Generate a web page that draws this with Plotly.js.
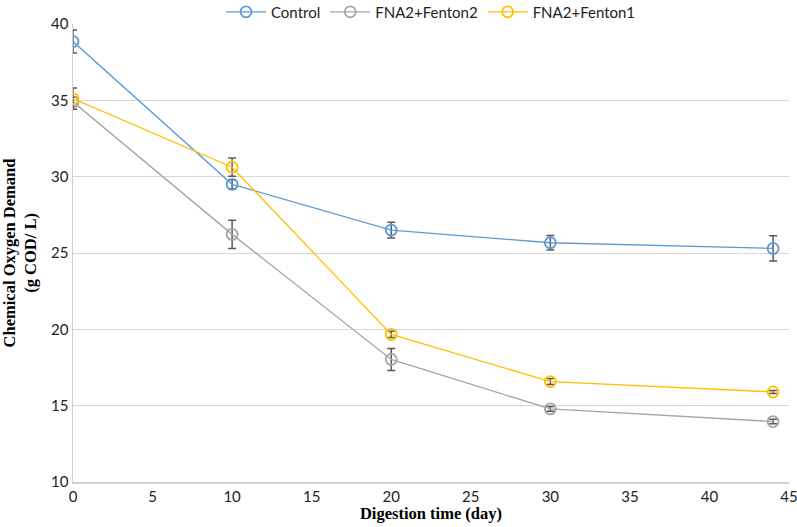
<!DOCTYPE html>
<html>
<head>
<meta charset="utf-8">
<script src="https://cdn.plot.ly/plotly-3.0.1.min.js"></script>
<style>
  html, body { margin: 0; padding: 0; background: #fff; }
  #plot { width: 797px; height: 527px; }
</style>
</head>
<body>
<div id="plot"></div>
<script>
// digestion days
let days = [0, 10, 20, 30, 44];

// COD values (g COD/L)
let control = [38.85, 29.5, 26.5, 25.67, 25.3];
let controlErr = [0.75, 0.3, 0.52, 0.48, 0.83];

let fenton2 = [34.9, 26.22, 18.03, 14.79, 13.96];
let fenton2Err = [0.3, 0.92, 0.72, 0.15, 0.15];

let fenton1 = [35.11, 30.62, 19.67, 16.58, 15.9];
let fenton1Err = [0.7, 0.6, 0.2, 0.2, 0.1];

let seriesNames = ['Control', 'FNA2+Fenton2', 'FNA2+Fenton1'];
let seriesColors = ['#5B9BD5', '#A5A5A5', '#FFC000'];

function makeTrace(y, err, i) {
	return {
		x: days,
		y: y,
		name: seriesNames[i],
		type: 'scatter',
		mode: 'lines+markers',
		line: {color: seriesColors[i], width: 1.3},
		marker: {symbol: 'circle-open', size: 11, color: seriesColors[i], line: {width: 1.8}},
		error_y: {type: 'data', array: err, visible: true, color: '#595959', thickness: 1.5, width: 4}
	};
}

let data = [
	makeTrace(control, controlErr, 0),
	makeTrace(fenton2, fenton2Err, 1),
	makeTrace(fenton1, fenton1Err, 2)
];

let tickFont = {family: 'Lato, "Open Sans", sans-serif', size: 15, color: '#222'};
let titleFont = {family: '"Liberation Serif", "Times New Roman", serif', size: 16.5, color: '#000'};

let layout = {
	width: 797,
	height: 527,
	margin: {l: 73, r: 8, t: 24, b: 45, autoexpand: false},
	paper_bgcolor: '#fff',
	plot_bgcolor: '#fff',
	showlegend: true,
	legend: {
		orientation: 'h', x: 0.5, xanchor: 'center', y: 1.026, yanchor: 'middle',
		font: {family: 'Lato, "Open Sans", sans-serif', size: 15, color: '#222'},
		itemwidth: 40
	},
	xaxis: {
		range: [0, 45],
		tickvals: [0, 5, 10, 15, 20, 25, 30, 35, 40, 45],
		ticklabeloverflow: 'allow',
		showgrid: false,
		zeroline: false,
		showline: true,
		linecolor: '#D0D0D0',
		linewidth: 1.5,
		ticks: '',
		tickfont: tickFont,
		title: {text: '<b>Digestion time (day)</b>', font: titleFont, standoff: 4}
	},
	yaxis: {
		range: [10, 40],
		tickvals: [10, 15, 20, 25, 30, 35, 40],
		showgrid: true,
		gridcolor: '#D9D9D9',
		gridwidth: 1,
		zeroline: false,
		showline: true,
		linecolor: '#D0D0D0',
		linewidth: 1.5,
		ticks: '',
		tickfont: tickFont,
		title: {text: '<b>Chemical Oxygen Demand<br>(g COD/ L)</b>', font: titleFont, standoff: 12}
	}
};

Plotly.newPlot('plot', data, layout, {displayModeBar: false, staticPlot: true});
</script>
</body>
</html>
